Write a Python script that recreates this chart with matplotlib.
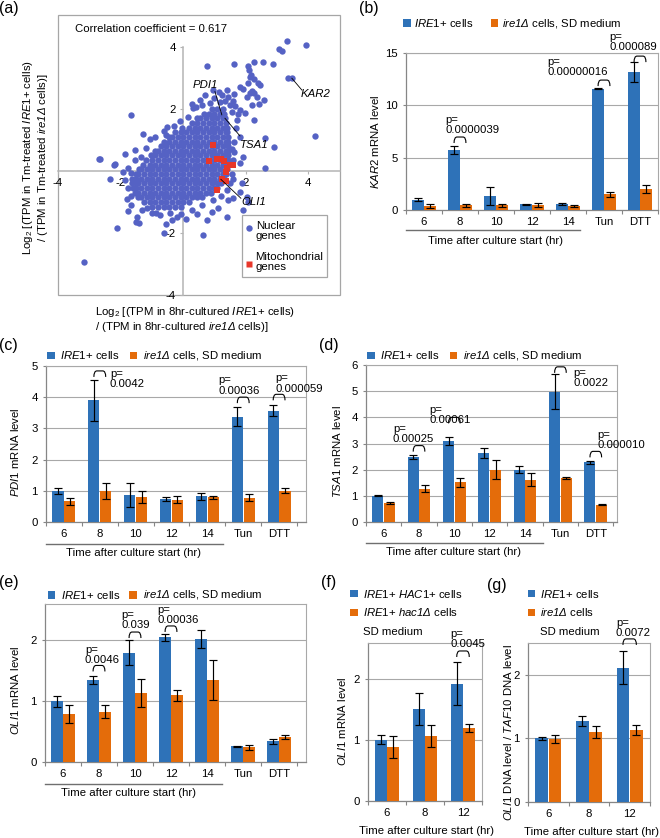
import numpy as np
import matplotlib
matplotlib.use("Agg")
import matplotlib.pyplot as plt
from matplotlib.patches import Rectangle, PathPatch
from matplotlib.path import Path
import matplotlib.transforms as mtransforms

plt.rcParams['font.family'] = ['Liberation Sans', 'DejaVu Sans']
plt.rcParams['mathtext.fontset'] = 'custom'
plt.rcParams['mathtext.rm'] = 'Liberation Sans'
plt.rcParams['mathtext.it'] = 'Liberation Sans:italic'
plt.rcParams['mathtext.sf'] = 'Liberation Sans:italic'
plt.rcParams['mathtext.bf'] = 'Liberation Sans:bold'
plt.rcParams['axes.unicode_minus'] = False

# ------------------------------------------------------------------ data
# (a) scatter: log2 ratios (x: 8hr-cultured, y: Tm-treated)
# dense core rows  "y: x x x ..."
NUCLEAR_CORE = """
-1.15: -0.98 -0.80 -0.62 -0.44 -0.26 -0.08
-1.00: -1.25 -1.07 -0.89 -0.71 -0.53 -0.35 -0.17 0.01 0.19
-0.85: -1.45 -1.34 -1.16 -0.98 -0.80 -0.62 -0.44 -0.26 -0.08 0.10 0.28 0.46 0.60
-0.70: -1.53 -1.43 -1.25 -1.07 -0.89 -0.71 -0.53 -0.35 -0.17 0.01 0.19 0.37 0.55 0.73 0.90
-0.55: -1.60 -1.52 -1.34 -1.16 -0.98 -0.80 -0.62 -0.44 -0.26 -0.08 0.10 0.28 0.46 0.64 0.82 1.00 1.08
-0.40: -1.62 -1.43 -1.25 -1.07 -0.89 -0.71 -0.53 -0.35 -0.17 0.01 0.19 0.37 0.55 0.73 0.91 1.09 1.22
-0.25: -1.64 -1.52 -1.34 -1.16 -0.98 -0.80 -0.62 -0.44 -0.26 -0.08 0.10 0.28 0.46 0.64 0.82 1.00 1.18 1.32
-0.10: -1.52 -1.43 -1.25 -1.07 -0.89 -0.71 -0.53 -0.35 -0.17 0.01 0.19 0.37 0.55 0.73 0.91 1.09 1.27 1.38
0.05: -1.42 -1.34 -1.16 -0.98 -0.80 -0.62 -0.44 -0.26 -0.08 0.10 0.28 0.46 0.64 0.82 1.00 1.18 1.36 1.42
0.20: -1.28 -1.07 -0.89 -0.71 -0.53 -0.35 -0.17 0.01 0.19 0.37 0.55 0.73 0.91 1.09 1.27 1.45
0.35: -1.17 -0.98 -0.80 -0.62 -0.44 -0.26 -0.08 0.10 0.28 0.46 0.64 0.82 1.00 1.18 1.36 1.45
0.50: -1.03 -0.89 -0.71 -0.53 -0.35 -0.17 0.01 0.19 0.37 0.55 0.73 0.91 1.09 1.27 1.45
0.65: -0.90 -0.80 -0.62 -0.44 -0.26 -0.08 0.10 0.28 0.46 0.64 0.82 1.00 1.18 1.36 1.45
0.80: -0.71 -0.53 -0.35 -0.17 0.01 0.19 0.37 0.55 0.73 0.91 1.09 1.27 1.45
0.95: -0.62 -0.44 -0.26 -0.08 0.10 0.28 0.46 0.64 0.82 1.00 1.18 1.36 1.45
1.10: -0.45 -0.35 -0.17 0.01 0.19 0.37 0.55 0.73 0.91 1.09 1.27 1.45
1.25: -0.26 -0.08 0.10 0.28 0.46 0.64 0.82 1.00 1.18 1.36 1.42
1.40: -0.02 0.19 0.37 0.55 0.73 0.91 1.09 1.27 1.40
1.55: 0.28 0.46 0.64 0.82 1.00 1.18 1.36
1.70: 0.45 0.55 0.73 0.91 1.09 1.27 1.35
1.85: 0.66 0.82 1.00 1.18 1.32
2.00: 0.93 1.09 1.27
"""
# scattered genes "x y"
NUCLEAR_SPREAD = """
3.32 4.19, 3.93 4.06, 3.08 3.92, 3.18 3.88, 0.75 3.37, 1.63 3.44, 2.28 3.53, 2.55 3.51,
2.87 3.45, 2.09 3.39, 2.12 3.26, 2.17 3.10, 2.14 3.02, 2.08 2.85, 2.27 2.96, 2.41 2.83,
2.46 2.77, 1.82 2.70, 1.91 2.63, 2.20 2.58, 2.14 2.51, 2.28 2.53, 2.36 2.40, 2.04 2.37,
2.59 2.29, 2.44 2.16, 2.20 2.13, 1.61 2.27, 1.82 1.97, 1.98 1.88, 2.28 1.65, 2.63 1.05,
2.91 0.76, 1.93 0.46, 1.82 0.25, 4.22 1.13, 3.35 3.01, 3.48 3.01, 0.28 2.16, 0.33 2.02,
0.60 2.13, 0.86 2.20, 1.18 2.22, 1.34 2.25, 1.45 2.40, 1.50 2.13, 1.72 1.65, 1.82 1.11,
1.70 1.40, 1.62 0.95, 1.58 0.70, 1.00 2.35, 1.25 2.45, 0.55 2.30, 1.65 2.10, 1.75 1.85,
1.55 1.90, -1.67 1.81, -2.66 0.38, -3.17 -2.94, -2.10 -1.84, -0.60 -2.01, 0.65 -2.06,
-2.34 -0.27, -2.20 0.18, -1.86 0.54, -1.54 0.68, -1.27 1.19, -1.06 1.03, -0.52 1.43,
-0.54 1.16, 0.42 2.05, -1.80 -0.91, -1.67 -1.11, -1.46 -1.47, -1.40 -1.69, -0.74 -1.42,
-0.42 -1.37, -0.54 -1.71, -0.07 -1.39, 0.76 -1.58, 1.40 -1.49, 1.13 -1.20, 1.61 -0.27,
1.63 0.62, 1.59 0.35, -1.91 -0.02, -1.66 -0.08, -1.50 -0.38, 1.88 -0.40, 1.82 -0.67,
1.61 -0.88, 2.09 -0.99, 1.93 -1.26, 0.92 -1.31, 2.62 0.09, 2.04 -0.85, 1.43 -0.93,
-2.69 0.39, -1.75 -1.30, -1.50 -1.63, -1.16 -1.20, -0.86 -1.36, -0.35 -1.58, -2.18 0.22,
-1.20 0.75, -0.90 1.10, -0.30 1.45, -1.35 0.45, -1.55 0.35, -1.75 0.10, -1.85 -0.30,
-1.75 -0.55, -1.65 -0.80, -1.30 -1.25, -1.00 -1.35, 0.30 -1.25, 0.60 -1.10, 0.95 -0.95,
1.20 -0.80, 1.40 -0.60, 1.50 -0.40, 1.55 -0.10, 0.10 -1.55, 0.45 -1.40, -0.20 -1.50,
0.70 2.45, 0.95 2.60, 1.15 2.55, 1.40 2.62, 1.62 2.48, -0.10 1.62, 0.15 1.75, -0.60 1.30
"""
mito_x = [0.95, 0.83, 1.10, 1.20, 1.30, 1.50, 1.60, 1.42, 1.37, 1.24, 1.38, 1.08]
mito_y = [0.84, 0.32, 0.40, 0.37, 0.33, 0.18, 0.18, 0.08, -0.02, -0.26, -0.32, -0.61]
corr_text = "Correlation coefficient = 0.617"
a_ticks = [-4, -2, 2, 4]

# bar panels
cats_time = ["6", "8", "10", "12", "14", "Tun", "DTT"]
cats_short = ["6", "8", "12"]

kar2_wt = [1.0, 5.75, 1.35, 0.54, 0.57, 11.6, 13.2]
kar2_wt_err = [0.17, 0.4, 0.85, 0.04, 0.12, 0.06, 0.95]
kar2_ko = [0.4, 0.43, 0.44, 0.47, 0.4, 1.5, 2.0]
kar2_ko_err = [0.17, 0.18, 0.18, 0.18, 0.1, 0.23, 0.38]
kar2_p = ["0.0000039", "0.00000016", "0.000089"]

pdi1_wt = [1.0, 3.9, 0.87, 0.73, 0.82, 3.37, 3.57]
pdi1_wt_err = [0.09, 0.65, 0.38, 0.07, 0.12, 0.3, 0.17]
pdi1_ko = [0.66, 1.0, 0.8, 0.71, 0.79, 0.78, 1.0]
pdi1_ko_err = [0.12, 0.26, 0.18, 0.11, 0.04, 0.12, 0.08]
pdi1_p = ["0.0042", "0.00036", "0.000059"]

tsa1_wt = [1.0, 2.48, 3.1, 2.63, 2.0, 4.98, 2.28]
tsa1_wt_err = [0.02, 0.08, 0.16, 0.18, 0.13, 0.67, 0.05]
tsa1_ko = [0.73, 1.27, 1.51, 2.0, 1.61, 1.68, 0.66]
tsa1_ko_err = [0.05, 0.13, 0.17, 0.37, 0.25, 0.05, 0.02]
tsa1_p = ["0.00025", "0.00061", "0.0022", "0.000010"]

oli1_wt = [1.0, 1.35, 1.8, 2.05, 2.02, 0.26, 0.34]
oli1_wt_err = [0.09, 0.07, 0.21, 0.06, 0.15, 0.01, 0.04]
oli1_ko = [0.79, 0.83, 1.13, 1.1, 1.35, 0.24, 0.41]
oli1_ko_err = [0.14, 0.1, 0.23, 0.09, 0.33, 0.04, 0.03]
oli1_p = ["0.0046", "0.039", "0.00036"]

hac_wt = [1.01, 1.51, 1.93]
hac_wt_err = [0.08, 0.26, 0.35]
hac_ko = [0.89, 1.07, 1.2]
hac_ko_err = [0.18, 0.18, 0.06]
hac_p = ["0.0045"]

dna_wt = [1.0, 1.28, 2.11]
dna_wt_err = [0.02, 0.08, 0.26]
dna_ko = [0.99, 1.1, 1.13]
dna_ko_err = [0.06, 0.1, 0.08]
dna_p = ["0.0072"]

# ------------------------------------------------------------------ style
FS = 8.2
W, H = 660, 838
BLUE = '#2E72B8'
ORANGE = '#E46C0A'
NUC = '#5562C4'
MIT = '#E8372A'
GRID = '#a8a8a8'
AXC = '#868686'
WIDTH = 0.31
OFF = 0.165

fig = plt.figure(figsize=(6.6, 8.38), dpi=100)


def add_ax(l, t, r, b):
    return fig.add_axes([l / W, 1 - b / H, (r - l) / W, (b - t) / H])


def ftext(x, y, s, **kw):
    kw.setdefault('fontsize', FS)
    fig.text(x / W, 1 - y / H, s, **kw)


def fsquare(x, y, color, s=7.5):
    fig.add_artist(Rectangle((x / W, 1 - (y + s) / H), s / W, s / H,
                             transform=fig.transFigure, color=color, lw=0))


def bracket(ax, xc, base, h, r):
    x1, x2 = xc - OFF, xc + OFF
    verts = [(x1, base), (x1, base + h), (x1 + r, base + h),
             (x2 - r, base + h), (x2, base + h), (x2, base)]
    codes = [Path.MOVETO, Path.CURVE3, Path.CURVE3, Path.LINETO, Path.CURVE3, Path.CURVE3]
    ax.add_patch(PathPatch(Path(verts, codes), fill=False, lw=0.8, ec='black',
                           clip_on=False, zorder=5))


def bar_panel(box, xmax, ymax, yticks, cats, blue, berr, orange, oerr,
              pvals, pspec, ylabel, ylab_xy, time_xy, underline=None):
    l, t, r, b = box
    ax = add_ax(l, t, r, b)
    n = len(blue)
    x = np.arange(n)
    ax.bar(x - OFF, blue, WIDTH, color=BLUE, zorder=3, lw=0)
    ax.bar(x + OFF, orange, WIDTH, color=ORANGE, zorder=3, lw=0)
    ekw = dict(fmt='none', ecolor='black', elinewidth=0.85, capsize=3.2,
               capthick=0.85, zorder=4)
    ax.errorbar(x - OFF, blue, yerr=berr, **ekw)
    ax.errorbar(x + OFF, orange, yerr=oerr, **ekw)
    ax.set_xlim(-0.5, xmax)
    ax.set_ylim(0, ymax)
    ax.set_yticks(yticks)
    ax.set_yticklabels([str(v) for v in yticks])
    ax.yaxis.grid(True, color=GRID, lw=0.8)
    ax.set_axisbelow(True)
    for s in ['left', 'bottom']:
        ax.spines[s].set_color(AXC)
        ax.spines[s].set_linewidth(0.9)
    for s in ['top', 'right']:
        ax.spines[s].set_color(GRID)
        ax.spines[s].set_linewidth(0.8)
    ax.set_xticks(x)
    ax.set_xticklabels(cats)
    ax.set_xticks(np.arange(-0.5, n, 1.0), minor=True)
    ax.tick_params(axis='x', which='major', length=0, pad=5, labelsize=FS)
    ax.tick_params(axis='x', which='minor', length=3, color=AXC, width=0.8)
    ax.tick_params(axis='y', length=2.5, color=AXC, width=0.8, pad=3.5, labelsize=FS)
    hpx = b - t
    ppx = (r - l) / (xmax + 0.5)
    for p, (i, tx, ty, base) in zip(pvals, pspec):
        bracket(ax, i, base, 6.0 / hpx * ymax, 3.0 / ppx)
        ax.text(tx, ty, 'p=\n' + p, ha='left', va='bottom', fontsize=FS,
                clip_on=False, linespacing=1.05, zorder=6)
    ftext(ylab_xy[0], ylab_xy[1], ylabel, rotation=90, ha='center', va='center')
    ftext(time_xy[0], time_xy[1], 'Time after culture start (hr)', ha='center', va='center')
    if underline is not None:
        upx, uend = underline
        tr = mtransforms.blended_transform_factory(ax.transData, ax.transAxes)
        ax.plot([-0.5, uend], [-upx / hpx] * 2, transform=tr, clip_on=False,
                color='#6f6f6f', lw=1.0)
    return ax


# ------------------------------------------------------------------ (a)
nuc_x, nuc_y = [], []
for line in NUCLEAR_CORE.strip().splitlines():
    yv, xs = line.split(':')
    for xv in xs.split():
        nuc_x.append(float(xv))
        nuc_y.append(float(yv))
for pair in NUCLEAR_SPREAD.replace('\n', ' ').split(','):
    if pair.strip():
        xv, yv = pair.split()
        nuc_x.append(float(xv))
        nuc_y.append(float(yv))

axa = add_ax(58, 15, 340, 295)
axa.set_xlim(-4, 5.02)
axa.set_ylim(-4, 5.03)
axa.spines['top'].set_visible(False)
axa.spines['right'].set_visible(False)
axa.spines['left'].set_position(('data', 0))
axa.spines['left'].set_bounds(-4, 4)
axa.spines['bottom'].set_position(('data', 0))
for s in ['left', 'bottom']:
    axa.spines[s].set_color('#b4b4b4')
    axa.spines[s].set_linewidth(1.1)
axa.add_patch(Rectangle((0, 0), 1, 1, transform=axa.transAxes, fill=False,
                        ec='#a6a6a6', lw=0.9, clip_on=False, zorder=0))
axa.set_xticks(a_ticks)
axa.set_xticklabels([str(v) for v in a_ticks])
axa.set_yticks(a_ticks)
axa.set_yticklabels([str(v) for v in a_ticks])
axa.tick_params(length=2.5, color='#b4b4b4', width=0.8, labelsize=FS, pad=2.5)
axa.scatter(nuc_x, nuc_y, s=21, color=NUC, lw=0, zorder=3)
axa.scatter(mito_x, mito_y, s=24, marker='s', color=MIT, lw=0, zorder=4)
axa.text(-3.46, 4.57, corr_text, ha='left', va='center', fontsize=FS)

# gene labels with leader lines
lk = dict(color='black', lw=0.6, zorder=5)
axa.plot([1.02, 1.24], [2.56, 1.81], **lk)
axa.plot([1.34, 1.82], [1.70, 1.13], **lk)
axa.plot([3.48, 3.80], [2.99, 2.61], **lk)
axa.plot([1.21, 1.85], [-0.27, -0.88], **lk)
gk = dict(fontsize=FS, fontstyle='italic', va='center', ha='left', zorder=6)
axa.text(0.31, 2.77, 'PDI1', **gk)
axa.text(1.82, 0.84, 'TSA1', **gk)
axa.text(3.77, 2.47, 'KAR2', **gk)
axa.text(1.88, -0.99, 'OLI1', **gk)

# legend box
axa.add_patch(Rectangle((0.651, 0.065), 0.304, 0.221, transform=axa.transAxes,
                        fill=True, fc='white', ec='#a6a6a6', lw=0.9, zorder=6))
axa.plot([0.678], [0.238], 'o', ms=4.6, color=NUC, mec='none',
         transform=axa.transAxes, zorder=7, clip_on=False)
axa.plot([0.678], [0.110], 's', ms=4.8, color=MIT, mec='none',
         transform=axa.transAxes, zorder=7, clip_on=False)
axa.text(0.702, 0.230, 'Nuclear\ngenes', transform=axa.transAxes, fontsize=FS,
         va='center', ha='left', linespacing=1.0, zorder=7)
axa.text(0.700, 0.119, 'Mitochondrial\ngenes', transform=axa.transAxes, fontsize=FS,
         va='center', ha='left', linespacing=1.0, zorder=7)

ftext(35.5, 158, 'Log$_2$ [(TPM in Tm-treated $\\mathit{IRE1}$+ cells)\n'
      '/ (TPM in Tm-treated $\\mathsf{ire1Δ}$ cells)]',
      rotation=90, ha='center', va='center', multialignment='center', linespacing=1.05)
ftext(95, 319.5, 'Log$_2$ [(TPM in 8hr-cultured $\\mathit{IRE1}$+ cells)\n'
      '/ (TPM in 8hr-cultured $\\mathsf{ire1Δ}$ cells)]',
      ha='left', va='center', multialignment='left', linespacing=1.05)

# ------------------------------------------------------------------ (b)-(g)
WT_LABEL = '$\\mathit{IRE1}$+ cells'
KO_LABEL = '$\\mathsf{ire1Δ}$ cells, SD medium'

bar_panel((406, 53, 658, 210), 6.37, 15, [0, 5, 10, 15], cats_time,
          kar2_wt, kar2_wt_err, kar2_ko, kar2_ko_err, kar2_p,
          [(1, 0.59, 7.16, 6.4), (5, 3.43, 12.7, 11.84), (6, 5.15, 15.1, 14.13)],
          '$\\mathit{KAR2}$ mRNA level', (375, 142), (496, 241), underline=(20, 4.32))
fsquare(403, 19.5, BLUE); ftext(414, 23, WT_LABEL, va='center')
fsquare(490.5, 19.5, ORANGE); ftext(501.5, 23, KO_LABEL, va='center')

bar_panel((46, 366, 306, 522), 6.75, 5, [0, 1, 2, 3, 4, 5], cats_time,
          pdi1_wt, pdi1_wt_err, pdi1_ko, pdi1_ko_err, pdi1_p,
          [(1, 1.28, 4.25, 4.65), (5, 4.3, 4.05, 3.81), (6, 5.9, 4.11, 3.9)],
          '$\\mathit{PDI1}$ mRNA level', (15, 452), (133, 553), underline=(22, 4.43))
fsquare(47, 351.5, BLUE); ftext(60, 355, WT_LABEL, va='center')
fsquare(129.5, 351.5, ORANGE); ftext(142.7, 355, KO_LABEL, va='center')

bar_panel((366, 365, 617, 522), 6.6, 6, [0, 1, 2, 3, 4, 5, 6], cats_time,
          tsa1_wt, tsa1_wt_err, tsa1_ko, tsa1_ko_err, tsa1_p,
          [(1, 0.26, 2.98, 2.69), (2, 1.29, 3.69, 3.77), (5, 5.37, 5.12, 5.7),
           (6, 6.04, 2.75, 2.47)],
          '$\\mathit{TSA1}$ mRNA level', (337, 451.5), (453.3, 552.3), underline=(21, 4.51))
fsquare(367, 351.5, BLUE); ftext(380, 355, WT_LABEL, va='center')
fsquare(449.5, 351.5, ORANGE); ftext(462.7, 355, KO_LABEL, va='center')

bar_panel((45, 604, 306, 762), 6.75, 2.6, [0, 1, 2], cats_time,
          oli1_wt, oli1_wt_err, oli1_ko, oli1_ko_err, oli1_p,
          [(1, 0.61, 1.59, 1.49), (2, 1.63, 2.17, 2.04), (3, 2.63, 2.25, 2.14)],
          '$\\mathit{OLI1}$ mRNA level', (15, 690), (128.3, 793.3), underline=(22, 4.43))
fsquare(47.5, 591, BLUE); ftext(60.7, 594.7, WT_LABEL, va='center')
fsquare(129, 591, ORANGE); ftext(142.7, 594.7, KO_LABEL, va='center')

bar_panel((368, 643, 482, 801), 2.5, 2.6, [0, 1, 2], cats_short,
          hac_wt, hac_wt_err, hac_ko, hac_ko_err, hac_p,
          [(2, 1.66, 2.5, 2.37)],
          '$\\mathit{OLI1}$ mRNA level', (341.7, 721.7), (426.7, 831))
fsquare(350.5, 590, BLUE); ftext(363.3, 593.7, '$\\mathit{IRE1}$+ $\\mathit{HAC1}$+ cells', va='center')
fsquare(350.5, 608.5, ORANGE); ftext(363.3, 612.3, '$\\mathit{IRE1}$+ $\\mathsf{hac1Δ}$ cells', va='center')
ftext(363.3, 631.7, 'SD medium', va='center')

bar_panel((528, 643, 650, 802), 2.5, 2.5, [0, 1, 2], cats_short,
          dna_wt, dna_wt_err, dna_ko, dna_ko_err, dna_p,
          [(2, 1.66, 2.58, 2.47)],
          '$\\mathit{OLI1}$ DNA level / $\\mathit{TAF10}$ DNA level', (508.3, 732), (591.7, 831.7))
fsquare(527.5, 590, BLUE); ftext(540, 593.7, '$\\mathit{IRE1}$+ cells', va='center')
fsquare(527.5, 608.5, ORANGE); ftext(540, 612.3, '$\\mathsf{ire1Δ}$ cells', va='center')
ftext(540, 631.7, 'SD medium', va='center')

# panel letters
PL = 11.5
ftext(-1, 8, '(a)', fontsize=PL, va='center')
ftext(359, 8, '(b)', fontsize=PL, va='center')
ftext(-1, 345, '(c)', fontsize=PL, va='center')
ftext(319, 345, '(d)', fontsize=PL, va='center')
ftext(-1, 582, '(e)', fontsize=PL, va='center')
ftext(321, 582, '(f)', fontsize=PL, va='center')
ftext(486.7, 585, '(g)', fontsize=PL, va='center')

fig.savefig('out.png', dpi=100)
